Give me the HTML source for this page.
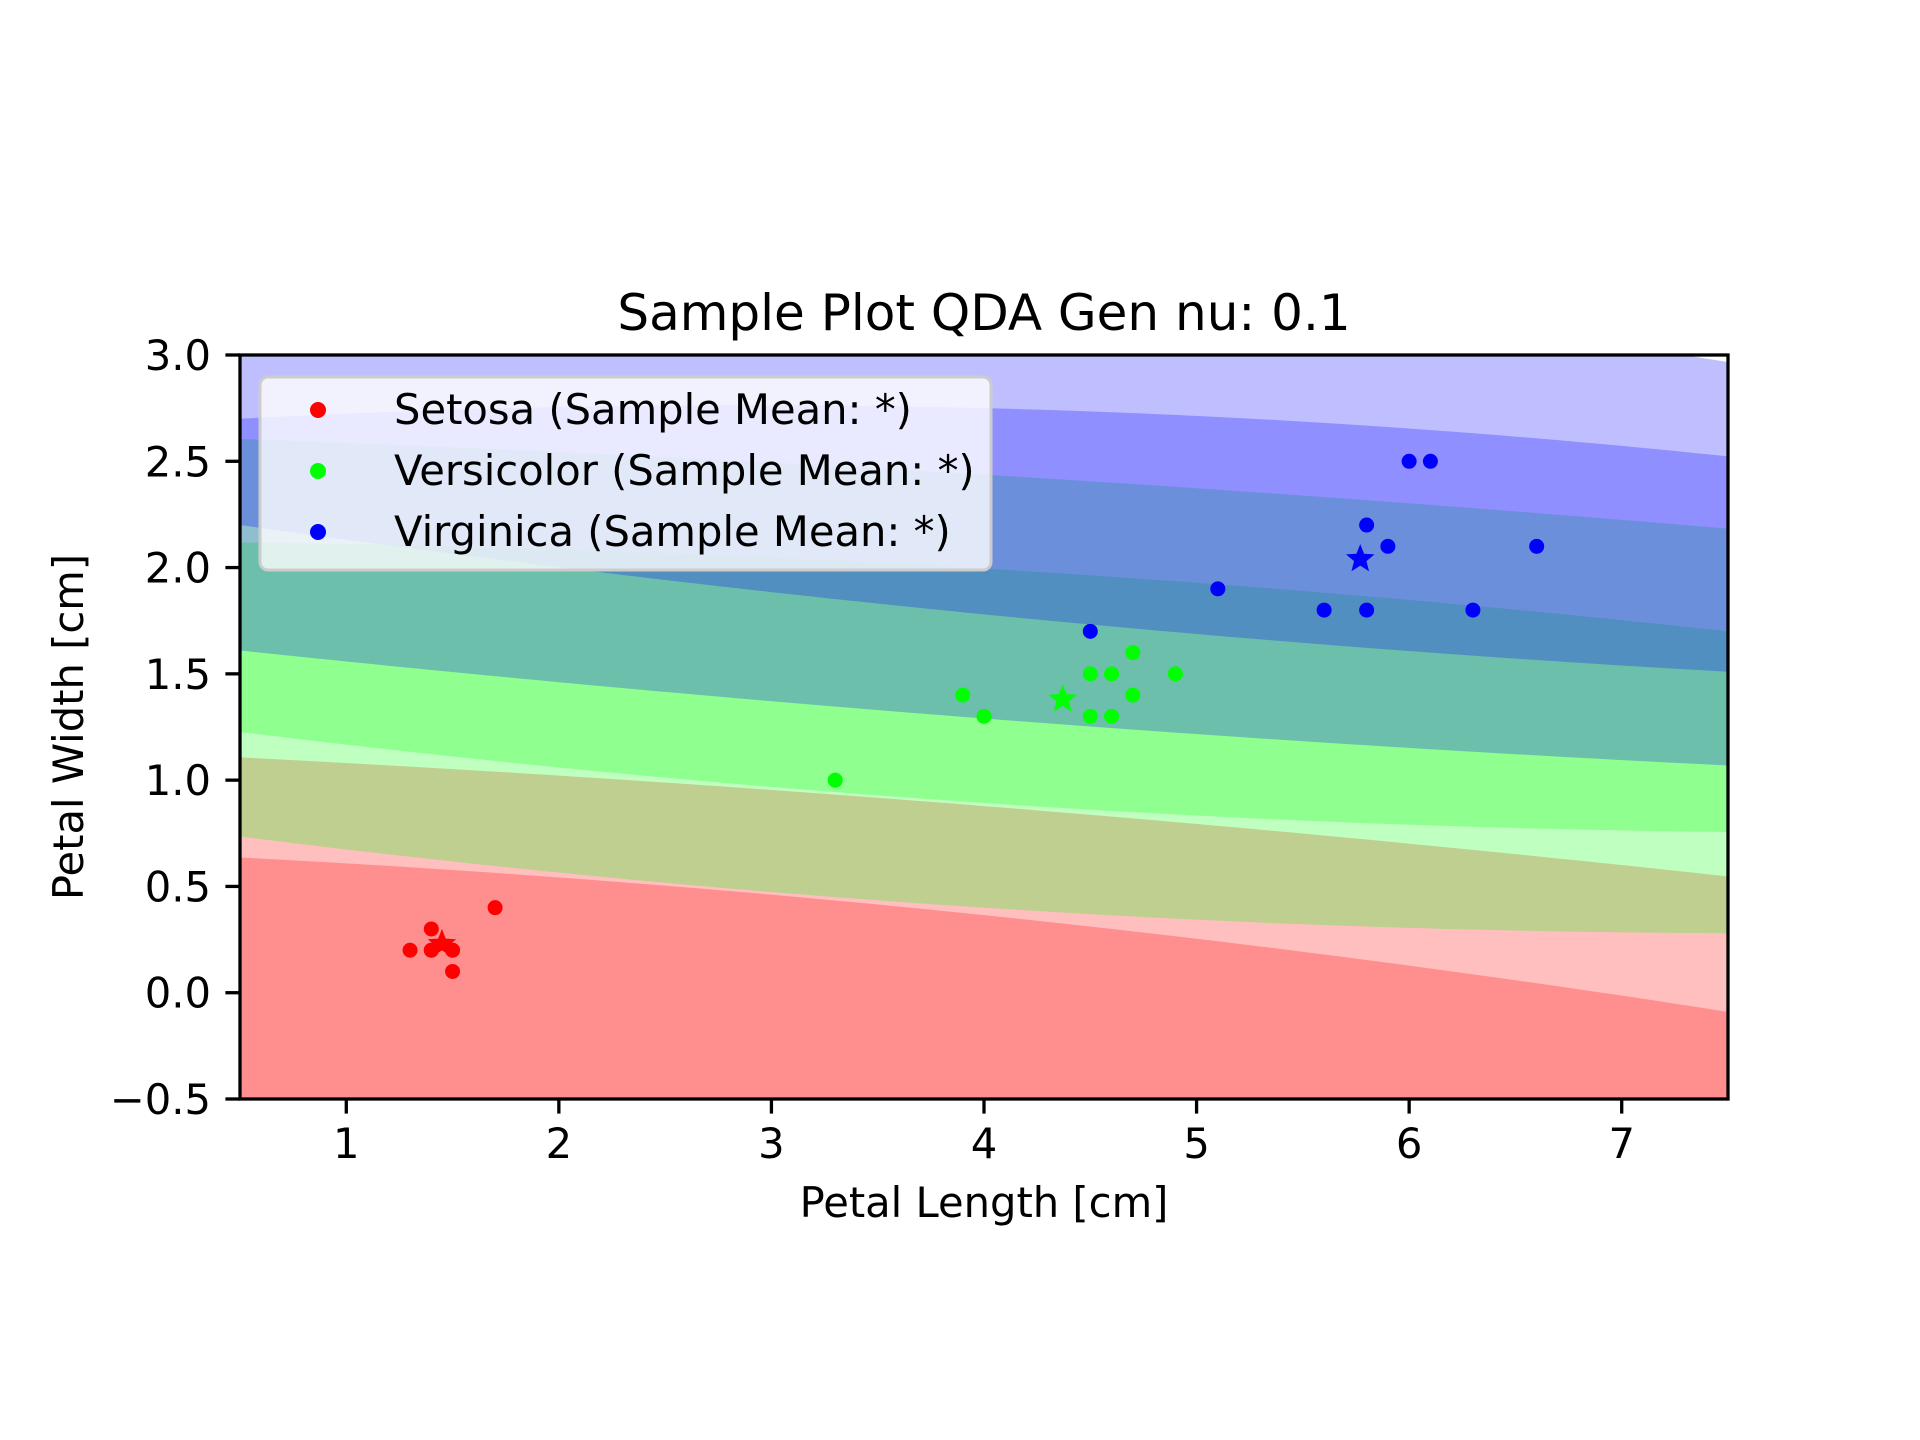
<!DOCTYPE html>
<html><head><meta charset="utf-8"><style>
html,body{margin:0;padding:0;background:#fff;}
svg{display:block;font-family:"DejaVu Sans","Liberation Sans",sans-serif;}
</style></head><body>
<svg id="chart" width="1920" height="1440" viewBox="0 0 1920 1440" xmlns="http://www.w3.org/2000/svg">
<rect width="1920" height="1440" fill="#fff"/>
<defs><clipPath id="axclip"><rect x="240" y="355" width="1488" height="744"/></clipPath></defs>
<g id="regions" clip-path="url(#axclip)"></g>
<g id="points" clip-path="url(#axclip)"></g>
<rect x="240" y="355" width="1488" height="744" fill="none" stroke="#000" stroke-width="3.3"/>
<g id="ticks"></g>
<text x="984" y="330" font-size="50" text-anchor="middle">Sample Plot QDA Gen nu: 0.1</text>
<text x="984" y="1217" font-size="41.67" text-anchor="middle">Petal Length [cm]</text>
<text transform="translate(83,727) rotate(-90)" font-size="41.67" text-anchor="middle">Petal Width [cm]</text>
<g>
<rect x="260" y="377" width="731" height="193" rx="8" fill="#fff" fill-opacity="0.8" stroke="#ccc" stroke-width="3"/>
<circle cx="318" cy="410" r="8" fill="#ff0000"/>
<text x="394" y="424" font-size="41.67">Setosa (Sample Mean: *)</text>
<circle cx="318" cy="471" r="8" fill="#00ff00"/>
<text x="394" y="485" font-size="41.67">Versicolor (Sample Mean: *)</text>
<circle cx="318" cy="532" r="8" fill="#0000ff"/>
<text x="394" y="546" font-size="41.67">Virginica (Sample Mean: *)</text>
</g>
</svg>
<script>
// contour boundaries: y values at x = 0.5, 4, 7.5
const nodeX = [0.5, 4, 7.5];
const redOuterUpper = [1.107, 0.878, 0.547];
const redInnerUpper = [0.636, 0.365, -0.09];
const greenOuterLower = [0.735, 0.40, 0.28];
const greenOuterUpper = [2.605, 2.437, 2.183];
const greenInnerLower = [1.227, 0.893, 0.756];
const greenInnerUpper = [2.118, 1.995, 1.70];
const blueOuterLower = [1.61, 1.29, 1.069];
const blueOuterUpper = [3.6, 3.4, 2.967];
const blueInnerLower = [2.20, 1.78, 1.51];
const blueInnerUpper = [2.70, 2.75, 2.523];
const setosaX = [1.3, 1.4, 1.4, 1.5, 1.5, 1.7, 1.4, 1.5];
const setosaY = [0.2, 0.3, 0.2, 0.2, 0.1, 0.4, 0.2, 0.2];
const versiX = [3.3, 3.9, 4.0, 4.5, 4.5, 4.6, 4.6, 4.7, 4.7, 4.9];
const versiY = [1.0, 1.4, 1.3, 1.5, 1.3, 1.5, 1.3, 1.6, 1.4, 1.5];
const virgX = [4.5, 5.1, 5.6, 5.8, 5.8, 5.9, 6.0, 6.1, 6.3, 6.6];
const virgY = [1.7, 1.9, 1.8, 1.8, 2.2, 2.1, 2.5, 2.5, 1.8, 2.1];
const meanX = [1.45, 4.37, 5.77];
const meanY = [0.23, 1.38, 2.04];
const xTicks = [1, 2, 3, 4, 5, 6, 7];
const yTicks = [-0.5, 0, 0.5, 1.0, 1.5, 2.0, 2.5, 3.0];

const NS = "http://www.w3.org/2000/svg";
const X0 = 240, X1 = 1728, Y0 = 355, Y1 = 1099;
const sx = v => X0 + (v - 0.5) / 7 * (X1 - X0);
const sy = v => Y1 - (v + 0.5) / 3.5 * (Y1 - Y0);
function curve(arr, x) {
  const [a, b, c] = nodeX;
  return arr[0] * (x - b) * (x - c) / ((a - b) * (a - c)) +
         arr[1] * (x - a) * (x - c) / ((b - a) * (b - c)) +
         arr[2] * (x - a) * (x - b) / ((c - a) * (c - b));
}
function band(lower, upper, color, name) {
  const xs = [];
  for (let i = 0; i <= 80; i++) xs.push(0.4 + i * 7.2 / 80);
  let pts = xs.map(x => sx(x) + "," + sy(upper ? curve(upper, x) : 5));
  pts = pts.concat(xs.slice().reverse().map(x => sx(x) + "," + sy(lower ? curve(lower, x) : -2)));
  const p = document.createElementNS(NS, "polygon");
  p.setAttribute("points", pts.join(" "));
  p.setAttribute("fill", color);
  p.setAttribute("fill-opacity", "0.25");
  
  
  document.getElementById("regions").appendChild(p);
}
band(null, redOuterUpper, "#ff0000", "setosa-outer-region");
band(null, redInnerUpper, "#ff0000", "setosa-inner-region");
band(greenOuterLower, greenOuterUpper, "#00ff00", "versicolor-outer-region");
band(greenInnerLower, greenInnerUpper, "#00ff00", "versicolor-inner-region");
band(blueOuterLower, blueOuterUpper, "#0000ff", "virginica-outer-region");
band(blueInnerLower, blueInnerUpper, "#0000ff", "virginica-inner-region");

const pg = document.getElementById("points");
function dots(xs, ys, color, name) {
  xs.forEach((x, i) => {
    const c = document.createElementNS(NS, "circle");
    c.setAttribute("cx", sx(x)); c.setAttribute("cy", sy(ys[i]));
    c.setAttribute("r", 7.5); c.setAttribute("fill", color);
    
    
    pg.appendChild(c);
  });
}
dots(setosaX, setosaY, "#ff0000", "setosa-point");
dots(versiX, versiY, "#00ff00", "versicolor-point");
dots(virgX, virgY, "#0000ff", "virginica-point");
const starColors = ["#ff0000", "#00ff00", "#0000ff"];
meanX.forEach((mx, i) => {
  const cx = sx(mx), cy = sy(meanY[i]);
  const R = 15, r = 6.5;
  const pts = [];
  for (let k = 0; k < 10; k++) {
    const a = -Math.PI / 2 + k * Math.PI / 5;
    const rr = k % 2 ? r : R;
    pts.push((cx + rr * Math.cos(a)) + "," + (cy + rr * Math.sin(a)));
  }
  const s = document.createElementNS(NS, "polygon");
  s.setAttribute("points", pts.join(" "));
  s.setAttribute("fill", starColors[i]);
  
  
  pg.appendChild(s);
});

const tg = document.getElementById("ticks");
function line(x1, y1, x2, y2) {
  const l = document.createElementNS(NS, "line");
  l.setAttribute("x1", x1); l.setAttribute("y1", y1);
  l.setAttribute("x2", x2); l.setAttribute("y2", y2);
  l.setAttribute("stroke", "#000"); l.setAttribute("stroke-width", "3.3");
  
  
  tg.appendChild(l);
}
function label(x, y, txt, anchor) {
  const t = document.createElementNS(NS, "text");
  t.setAttribute("x", x); t.setAttribute("y", y);
  t.setAttribute("font-size", "41.67");
  t.setAttribute("text-anchor", anchor);
  t.textContent = txt;
  
  
  tg.appendChild(t);
}
xTicks.forEach(v => {
  line(sx(v), Y1, sx(v), Y1 + 14.6);
  label(sx(v), 1158, String(v), "middle");
});
yTicks.forEach(v => {
  line(X0 - 14.6, sy(v), X0, sy(v));
  label(211, sy(v) + 15, (v < 0 ? "\u2212" : "") + Math.abs(v).toFixed(1), "end");
});
</script>
</body></html>
